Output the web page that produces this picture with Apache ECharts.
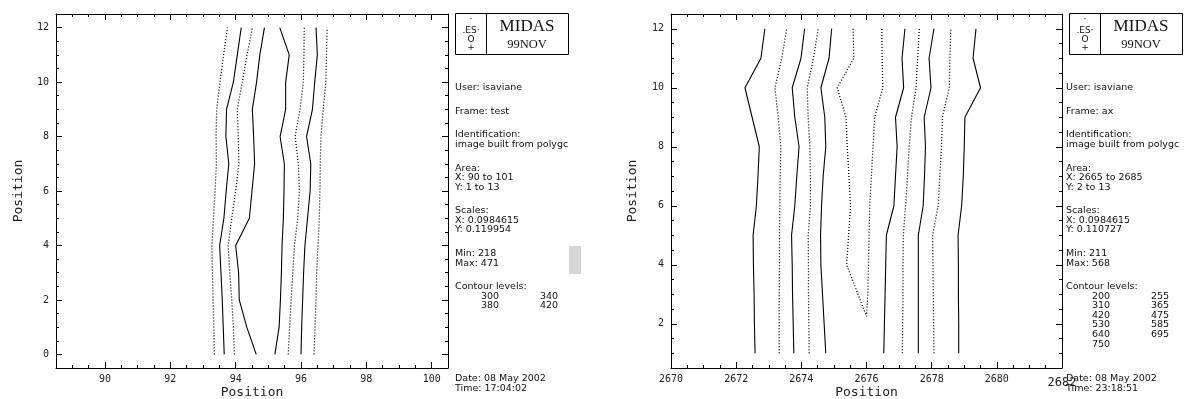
<!DOCTYPE html>
<html>
<head>
<meta charset="utf-8">
<script src="https://cdn.jsdelivr.net/npm/echarts@6/dist/echarts.min.js"></script>
<style>
html,body{margin:0;padding:0;background:#fff}
#main{width:1186px;height:399px}
</style>
</head>
<body>
<div id="main"></div>
<script>
// left frame "test": contour lines, x position at each row y
var leftRows = [0,1,2,3,4,5,6,7,8,9,10,11,12];
var leftSolid = [
    [93.65,93.62,93.59,93.55,93.51,93.64,93.71,93.79,93.70,93.72,93.93,94.05,94.17],
    [94.63,94.34,94.11,94.09,94.00,94.42,94.50,94.58,94.55,94.51,94.64,94.74,94.88],
    [95.20,95.33,95.37,95.40,95.42,95.46,95.48,95.49,95.36,95.53,95.53,95.64,95.35],
    [96.00,96.02,96.05,96.08,96.12,96.20,96.28,96.30,96.17,96.35,96.42,96.50,96.46]
];
var leftDotted = [
    [93.35,93.33,93.31,93.29,93.27,93.32,93.37,93.41,93.40,93.42,93.52,93.63,93.75],
    [93.96,93.93,93.88,93.82,93.77,93.88,94.00,94.10,94.08,94.05,94.20,94.35,94.51],
    [95.61,95.65,95.70,95.75,95.80,95.90,95.95,95.92,95.82,95.97,96.07,96.09,96.10],
    [96.40,96.43,96.46,96.48,96.52,96.56,96.58,96.59,96.61,96.68,96.76,96.78,96.80]
];

// right frame "ax"
var rightRows = [1,2,3,4,5,6,7,8,9,10,11,12];
var rightSolid = [
    [2672.58,2672.56,2672.55,2672.53,2672.52,2672.62,2672.67,2672.71,2672.49,2672.27,2672.76,2672.88],
    [2673.77,2673.75,2673.73,2673.72,2673.70,2673.80,2673.86,2673.93,2673.80,2673.72,2673.99,2674.10],
    [2674.75,2674.70,2674.65,2674.60,2674.59,2674.62,2674.67,2674.75,2674.72,2674.60,2674.85,2674.93],
    [2676.53,2676.55,2676.57,2676.59,2676.61,2676.84,2676.89,2676.94,2676.89,2677.14,2677.09,2677.18],
    [2677.59,2677.59,2677.59,2677.59,2677.59,2677.74,2677.78,2677.81,2677.77,2677.98,2677.92,2678.07],
    [2678.83,2678.83,2678.82,2678.82,2678.81,2678.92,2678.97,2679.00,2679.02,2679.50,2679.27,2679.36]
];
var rightDotted = [
    [2673.32,2673.32,2673.32,2673.33,2673.33,2673.34,2673.35,2673.37,2673.29,2673.19,2673.40,2673.55],
    [2674.24,2674.23,2674.22,2674.22,2674.21,2674.28,2674.28,2674.26,2674.21,2674.18,2674.37,2674.52],
    [2677.10,2677.11,2677.12,2677.12,2677.13,2677.20,2677.26,2677.31,2677.38,2677.52,2677.57,2677.62],
    [2678.07,2678.06,2678.05,2678.04,2678.03,2678.20,2678.25,2678.30,2678.33,2678.54,2678.56,2678.59]
];
// the closed dotted contour: down the left side, tip, back up the right side
var loopRowsDown = [12,11,10,9,8,7,6,5,4];
var loopLeftX = [2675.59,2675.61,2675.10,2675.37,2675.41,2675.46,2675.51,2675.45,2675.39];
var loopTip = [2676.00, 2.25];
var loopRowsUp = [3,4,5,6,7,8,9,10,11,12];
var loopRightX = [2676.04,2676.06,2676.08,2676.10,2676.15,2676.20,2676.25,2676.50,2676.48,2676.47];

// side panel texts
var leftLevels = [300,340,380,420];
var rightLevels = [200,255,310,365,420,475,530,585,640,695,750];
var leftBlocks = [
    ['User: isaviane'], ['Frame: test'], ['Identification:','image built from polygc'],
    ['Area:','X: 90 to 101','Y: 1 to 13'], ['Scales:','X: 0.0984615','Y: 0.119954'],
    ['Min: 218','Max: 471']
];
var rightBlocks = [
    ['User: isaviane'], ['Frame: ax'], ['Identification:','image built from polygc'],
    ['Area:','X: 2665 to 2685','Y: 2 to 13'], ['Scales:','X: 0.0984615','Y: 0.110727'],
    ['Min: 211','Max: 568']
];
var leftStamp = ['Date: 08 May 2002','Time: 17:04:02'];
var rightStamp = ['Date: 08 May 2002','Time: 23:18:51'];

var chart = echarts.init(document.getElementById('main'));

function evenLabel(v){
    return Math.abs(v % 2) < 1e-9 ? String(v) : '';
}

// major ticks + frame
function majorAxis(dim, grid, pos, min, max, labelled, name, nameGap, fmt){
    var a = {
        type:'value', gridIndex:grid, position:pos, min:min, max:max,
        splitNumber:6, minInterval:2, maxInterval:2,
        axisLine:{show:true, onZero:false, lineStyle:{color:'#000', width:1}},
        axisTick:{show:true, inside:true, length:6, lineStyle:{color:'#000', width:1}},
        minorTick:{show:false},
        splitLine:{show:false},
        axisLabel:{
            show:labelled, color:'#222', fontFamily:'DejaVu Sans Mono', fontSize:10,
            margin: dim==='x' ? 6 : 7,
            hideOverlap:false,
            formatter: fmt || evenLabel
        }
    };
    if (name) {
        a.name = name;
        a.nameLocation = 'middle';
        a.nameGap = nameGap;
        a.nameMoveOverlap = false;
        a.nameTextStyle = {color:'#222', fontFamily:'DejaVu Sans Mono', fontSize:13};
    }
    return a;
}
// minor ticks every 0.5
function minorAxis(grid, pos, min, max){
    return {
        type:'value', gridIndex:grid, position:pos, min:min, max:max, interval:0.5,
        axisLine:{show:false, onZero:false},
        axisTick:{show:true, inside:true, length:3, lineStyle:{color:'#000', width:1}},
        splitLine:{show:false},
        axisLabel:{show:false}
    };
}

function line(xs, rows, dotted, axis){
    return {
        type:'line', xAxisIndex:axis, yAxisIndex:axis, silent:true,
        symbol:'none', animation:false,
        lineStyle:{color:'#000', width: dotted ? 1.3 : 1.1, type: dotted ? [1,2] : 'solid'},
        data: xs.map(function(x, i){ return [x, rows[i]]; })
    };
}

var series = [];
leftSolid.forEach(function(xs){ series.push(line(xs, leftRows, false, 0)); });
leftDotted.forEach(function(xs){ series.push(line(xs, leftRows, true, 0)); });
rightSolid.forEach(function(xs){ series.push(line(xs, rightRows, false, 4)); });
rightDotted.forEach(function(xs){ series.push(line(xs, rightRows, true, 4)); });
var loop = line(loopLeftX, loopRowsDown, true, 4);
loop.data.push(loopTip);
loopRightX.forEach(function(x, i){ loop.data.push([x, loopRowsUp[i]]); });
series.push(loop);

function rightXFmt(v){
    if (v === 2682) return '{m|2682}';
    return evenLabel(v);
}

// side panel graphics
var S = 9.6, G = 23.5, U = 88, STAMP_Y = 379;
function sidePanel(boxX, textX, blocks, levels, stamp, shade){
    var els = [];
    var txt = function(x, y, s, font, align){
        els.push({type:'text', x:x, y:y, silent:true,
            style:{text:s, font:font || '9.5px "DejaVu Sans"', fill:'#111',
                   align:align || 'left', verticalAlign:'middle'}});
    };
    // MIDAS logo
    els.push({type:'rect', silent:true, shape:{x:boxX+0.5, y:13.5, width:113, height:41},
        style:{fill:'none', stroke:'#000', lineWidth:1}});
    els.push({type:'line', silent:true, shape:{x1:boxX+31.5, y1:13.5, x2:boxX+31.5, y2:54.5},
        style:{stroke:'#000', lineWidth:1}});
    txt(boxX+16, 20, '·', '9px "DejaVu Sans"', 'center');
    txt(boxX+16, 31, '.ES·', '9px "DejaVu Sans"', 'center');
    txt(boxX+16, 39.5, 'O', '9px "DejaVu Sans"', 'center');
    txt(boxX+16, 48, '+', '9px "DejaVu Sans"', 'center');
    txt(boxX+72, 27, 'MIDAS', '17px "Liberation Serif"', 'center');
    txt(boxX+72, 45, '99NOV', '12.5px "Liberation Serif"', 'center');

    var y = U, minY = 0;
    blocks.forEach(function(b, bi){
        if (bi > 0) y += G - S;
        if (bi === blocks.length - 1) minY = y;
        b.forEach(function(s){ txt(textX, y, s); y += S; });
    });
    y += G - S;
    txt(textX, y, 'Contour levels:'); y += S;
    for (var i = 0; i < levels.length; i += 2) {
        txt(textX+26, y, String(levels[i]));
        if (i+1 < levels.length) txt(textX+85, y, String(levels[i+1]));
        y += S;
    }
    y = STAMP_Y;
    stamp.forEach(function(s){ txt(textX, y, s); y += S + 0.4; });
    if (shade) {
        els.push({type:'rect', silent:true, shape:{x:569, y:Math.round(minY - 7), width:12, height:28},
            style:{fill:'#d6d6d6'}});
    }
    return els;
}

var graphics = sidePanel(455, 455, leftBlocks, leftLevels, leftStamp, true)
    .concat(sidePanel(1069, 1066, rightBlocks, rightLevels, rightStamp, false));

var option = {
    backgroundColor:'#fff',
    animation:false,
    grid:[
        {left:56, top:14, width:392, height:354, outerBoundsMode:'none'},
        {left:56, top:14, width:392, height:354, outerBoundsMode:'none'},
        {left:671, top:14, width:391, height:354, outerBoundsMode:'none'},
        {left:671, top:14, width:391, height:354, outerBoundsMode:'none'}
    ],
    xAxis:[
        majorAxis('x', 0, 'bottom', 88.5, 100.5, true, 'Position', 18),
        majorAxis('x', 0, 'top', 88.5, 100.5, false),
        minorAxis(1, 'bottom', 88.5, 100.5),
        minorAxis(1, 'top', 88.5, 100.5),
        majorAxis('x', 2, 'bottom', 2670, 2682, true, 'Position', 18, rightXFmt),
        majorAxis('x', 2, 'top', 2670, 2682, false),
        minorAxis(3, 'bottom', 2670, 2682),
        minorAxis(3, 'top', 2670, 2682)
    ],
    yAxis:[
        majorAxis('y', 0, 'left', -0.5, 12.5, true, 'Position', 31),
        majorAxis('y', 0, 'right', -0.5, 12.5, false),
        minorAxis(1, 'left', -0.5, 12.5),
        minorAxis(1, 'right', -0.5, 12.5),
        majorAxis('y', 2, 'left', 0.5, 12.5, true, 'Position', 32),
        majorAxis('y', 2, 'right', 0.5, 12.5, false),
        minorAxis(3, 'left', 0.5, 12.5),
        minorAxis(3, 'right', 0.5, 12.5)
    ],
    graphic: graphics,
    series: series
};
option.xAxis[4].axisLabel.rich = {
    m:{color:'#222', fontFamily:'DejaVu Sans Mono', fontSize:12, padding:[3,0,0,0]}
};
chart.setOption(option);
</script>
</body>
</html>
